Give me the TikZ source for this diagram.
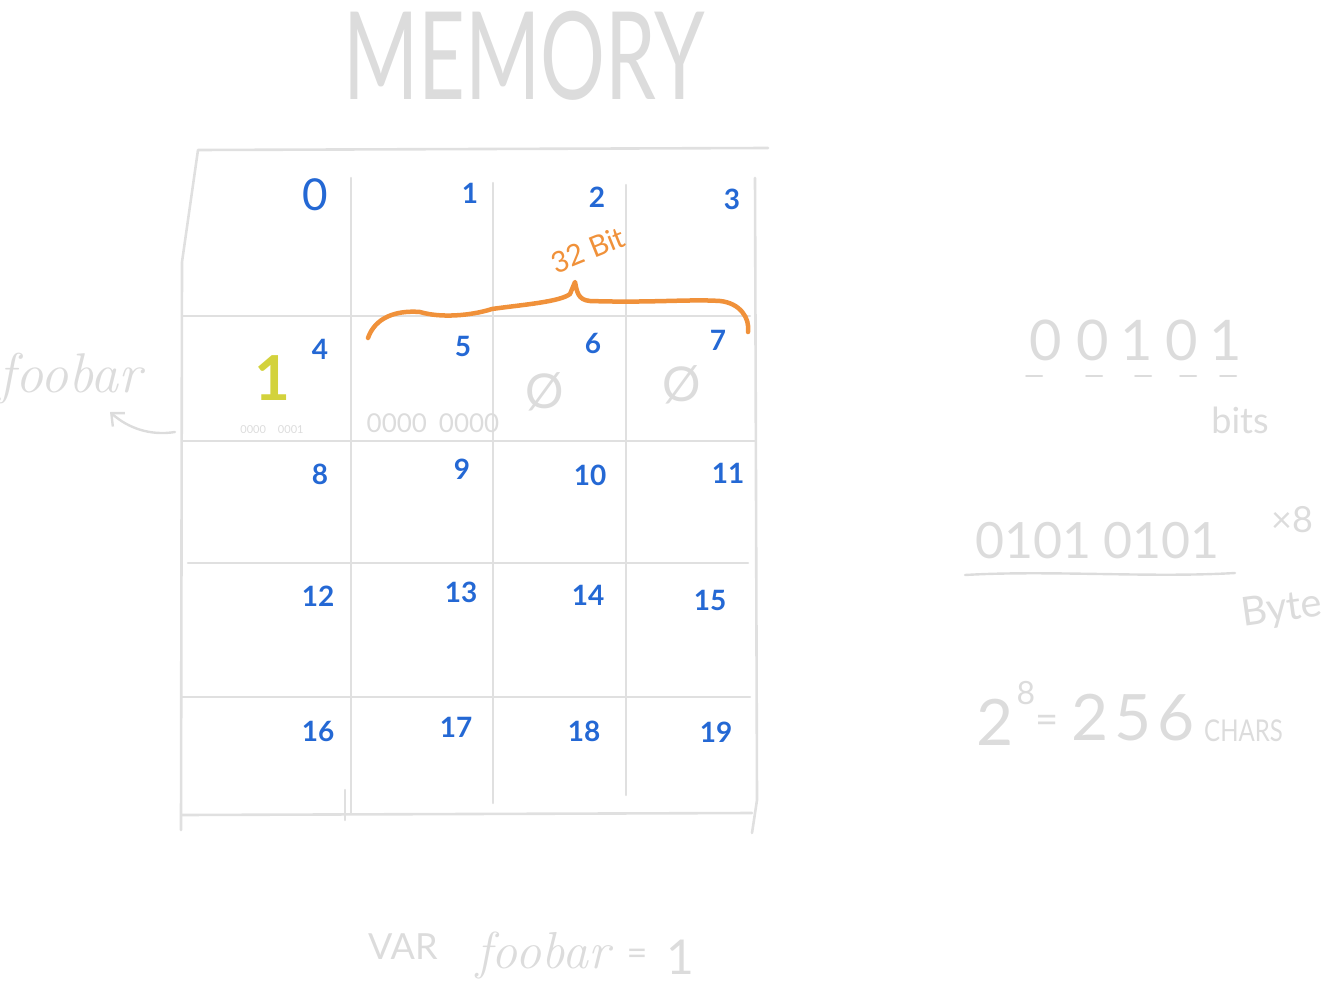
\documentclass[tikz,border=0pt]{standalone}
\usepackage{fontspec}
\usepackage{graphicx}
\setmainfont{Lato}
\usetikzlibrary{arrows.meta}
\definecolor{grid}{HTML}{E0E0E0}
\definecolor{pale}{HTML}{DCDCDC}
\definecolor{num}{HTML}{2468D4}
\definecolor{brace}{HTML}{F0913A}
\definecolor{yel}{HTML}{D3D23C}
\tikzset{
  gridline/.style={draw=grid, line width=2.6pt, line cap=round, line join=round},
  addr/.style={text=num, font=\fontsize{28}{30}\selectfont\bfseries, inner sep=0pt},
  paletext/.style={text=pale, inner sep=0pt},
  bracepath/.style={draw=brace, line width=4.5pt, line cap=round, line join=round},
}
\begin{document}
\begin{tikzpicture}[x=1pt,y=-1pt]
\useasboundingbox (0,0) rectangle (1329,1000);
% title
\node[paletext, font=\fontsize{122}{122}\selectfont] (title) at (524,56) {\scalebox{0.665}[1]{MEMORY}};
% grid
\draw[gridline] (768,148) -- (198,150) -- (182,262) -- (181,830);
\draw[gridline] (182,316) -- (750,316);
\draw[gridline] (182,441) -- (755,441);
\draw[gridline] (188,563) -- (748,563);
\draw[gridline] (182,697) -- (750,697);
\draw[gridline] (182,815) -- (752,813);
\draw[gridline] (351,178) -- (351,813);
\draw[gridline] (345,790) -- (345,820);
\draw[gridline] (493,183) -- (493,803);
\draw[gridline] (626,185) -- (626,795);
\draw[gridline] (755,178) -- (757,800) -- (752,833);
% addresses
\node[addr, font=\fontsize{44}{44}\selectfont] (a0) at (315,195) {0};
\node[addr] (a1) at (470,193) {1};
\node[addr] (a2) at (597,197) {2};
\node[addr] (a3) at (732,199) {3};
\node[addr] (a4) at (320,349) {4};
\node[addr] (a5) at (463,346) {5};
\node[addr] (a6) at (593,343) {6};
\node[addr] (a7) at (718,340) {7};
\node[addr] (a8) at (320,474) {8};
\node[addr] (a9) at (462,469) {9};
\node[addr] (a10) at (590,475) {10};
\node[addr] (a11) at (728,473) {11};
\node[addr] (a12) at (318,596) {12};
\node[addr] (a13) at (461,592) {13};
\node[addr] (a14) at (588,595) {14};
\node[addr] (a15) at (710,600) {15};
\node[addr] (a16) at (318,731) {16};
\node[addr] (a17) at (456,727) {17};
\node[addr] (a18) at (584,731) {18};
\node[addr] (a19) at (716,732) {19};
% brace
\draw[bracepath] (368,338) .. controls (375,318) and (395,310) .. (420,312)
  .. controls (440,318) and (470,316) .. (492,309)
  .. controls (520,305) and (560,302) .. (570,294) -- (575,282)
  .. controls (577,292) and (578,300) .. (590,301)
  .. controls (650,303) and (690,299) .. (720,301)
  .. controls (740,303) and (750,318) .. (748,332);
\node[text=brace, font=\fontsize{29}{29}\selectfont, rotate=22, inner sep=0pt] (bits32) at (588,250) {32 Bit};
% cell contents
\node[text=yel, font=\fontsize{62}{62}\selectfont\bfseries, inner sep=0pt] (one) at (272,378) {1};
\node[paletext, font=\fontsize{11}{11}\selectfont] (b1) at (272,430) {0000\hspace{12pt}0001};
\node[paletext, font=\fontsize{26}{26}\selectfont] (b0) at (433,423) {0000\hspace{12pt}0000};
\node[paletext, font=\fontsize{48}{48}\selectfont] (z6) at (545,392) {Ø};
\node[paletext, font=\fontsize{48}{48}\selectfont] (z7) at (682,385) {Ø};
% foobar label with arrow
\node[paletext, font=\fontsize{56}{56}\selectfont] (foo) at (70,378) {\fontspec{Latin Modern Roman}\itshape foobar};
\coordinate (fooarr) at (110,412);
\draw[draw=pale, line width=2.4pt, line cap=round, -{Straight Barb[length=10pt,width=18pt]}] (175,432) .. controls (150,436) and (128,428) .. (fooarr);
% right notes
\node[paletext, font=\fontsize{56}{56}\selectfont] (bitsrow) at (1136,340) {0\hspace{14pt}0\hspace{12pt}1\hspace{12pt}0\hspace{12pt}1};
\foreach \x in {1034,1094,1143,1188,1228}
  \draw[draw=pale, line width=2pt, line cap=round] (\x-8,376) -- (\x+8,376);
\node[paletext, font=\fontsize{36}{36}\selectfont] (bitslbl) at (1240,420) {bits};
\node[paletext, font=\fontsize{50}{50}\selectfont] (byterow) at (1097,541) {0101\hspace{12pt}0101};
\coordinate (ulA) at (965,575);
\coordinate (ulB) at (1235,573);
\draw[draw=pale, line width=2.4pt, line cap=round] (ulA) .. controls (1050,570) and (1150,578) .. (ulB);
\node[paletext, font=\fontsize{36}{36}\selectfont] (times8) at (1292,520) {×8};
\node[paletext, font=\fontsize{40}{40}\selectfont, rotate=8] (bytelbl) at (1282,610) {Byte};
\node[paletext, font=\fontsize{64}{64}\selectfont] (two) at (995,722) {2};
\node[paletext, font=\fontsize{32}{32}\selectfont] (exp) at (1026,693) {8};
\node[paletext, font=\fontsize{40}{40}\selectfont] (eqpow) at (1047,724) {=};
\node[paletext, font=\fontsize{64}{64}\selectfont] (num256) at (1133,718) {2\hspace{6pt}5\hspace{6pt}6};
\node[paletext, font=\fontsize{30}{30}\selectfont, anchor=west] (chars) at (1204,731) {\scalebox{0.8}[1]{CHARS}};
% bottom statement
\node[paletext, font=\fontsize{36}{36}\selectfont, anchor=west] (varkw) at (368,947) {VAR};
\node[paletext, font=\fontsize{52}{52}\selectfont] (foo2) at (543,955) {\fontspec{Latin Modern Roman}\itshape foobar};
\node[paletext, font=\fontsize{36}{36}\selectfont] (eq) at (637,957) {=};
\node[paletext, font=\fontsize{48}{48}\selectfont] (val) at (680,957) {1};
\end{tikzpicture}
\end{document}
